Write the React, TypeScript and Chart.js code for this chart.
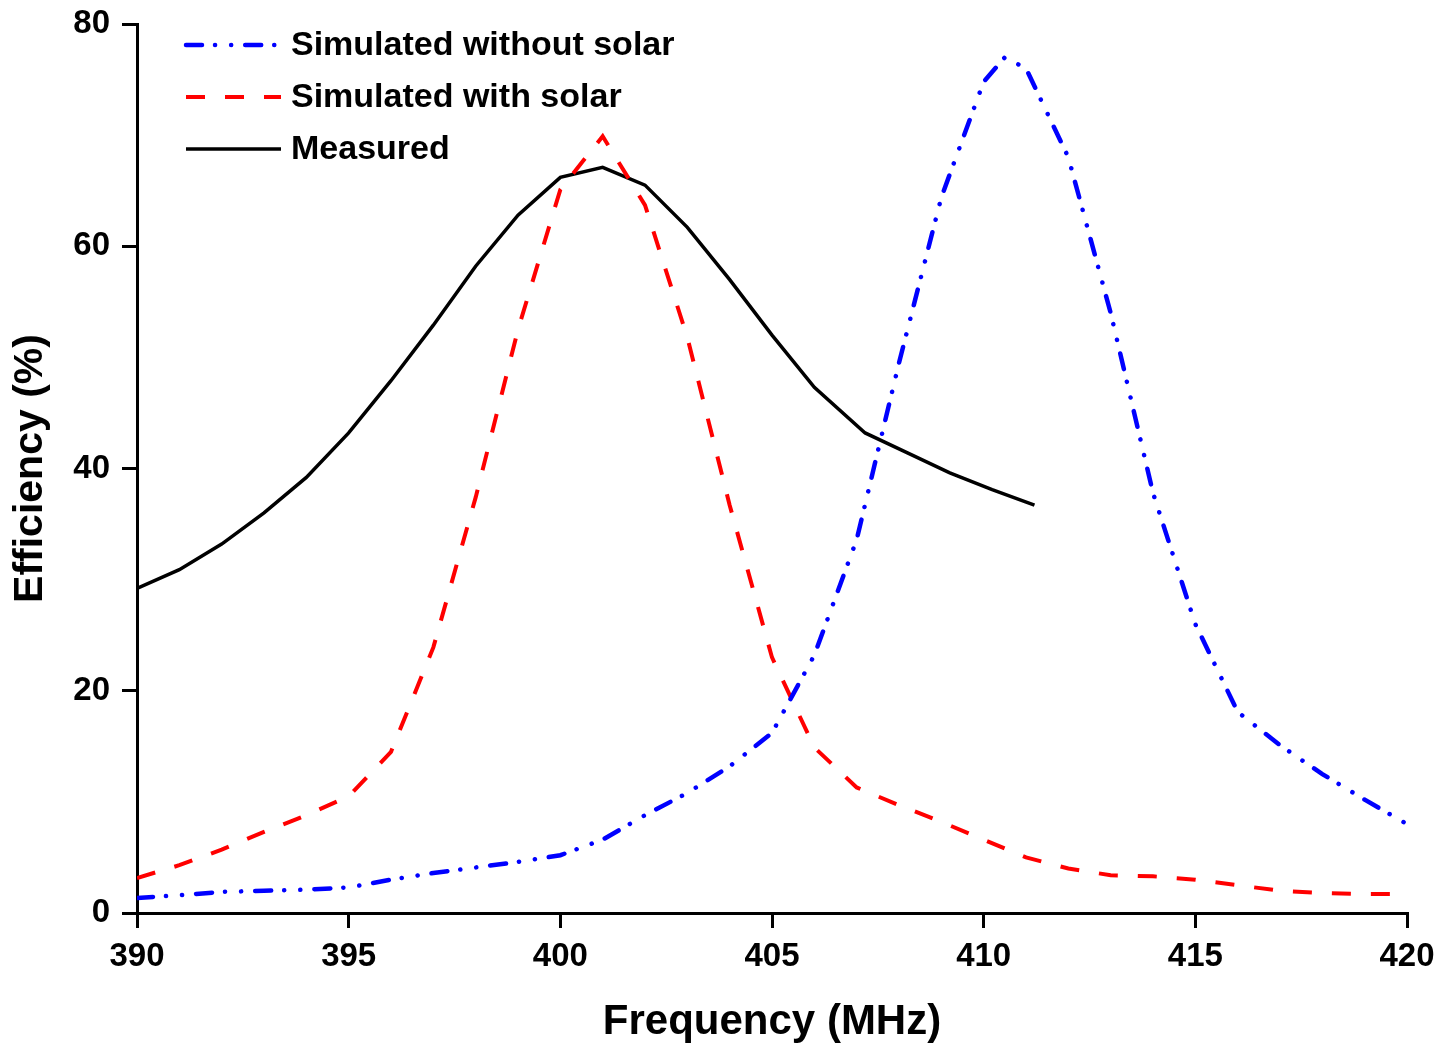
import React, { useEffect, useRef } from "react";
import { Chart, registerables } from "chart.js";

Chart.register(...registerables);

// Frequency grids (MHz)
const simFreq = [390, 391, 392, 393, 394, 395, 396, 397, 398, 399, 400, 401, 402, 403, 404, 405, 406, 407, 408, 409, 410, 410.5, 411, 412, 413, 414, 415, 416, 417, 418, 419, 420];
const withSolarFreq = [390, 391, 392, 393, 394, 395, 396, 397, 398, 399, 400, 401, 402, 403, 404, 405, 406, 407, 408, 409, 410, 411, 412, 413, 414, 415, 416, 417, 418, 419, 420];
const measFreq = [390, 391, 392, 393, 394, 395, 396, 397, 398, 399, 400, 401, 402, 403, 404, 405, 406, 407.2, 408.2, 409.2, 410.2, 411.2];

// Efficiency (%)
const withoutSolar = [1.35, 1.6, 1.9, 2.0, 2.1, 2.3, 3.0, 3.6, 4.1, 4.6, 5.2, 6.6, 8.8, 10.8, 13.2, 16.2, 23.2, 33.6, 49.5, 64.4, 74.8, 77.0, 76.0, 68.0, 54.0, 37.8, 26.0, 18.1, 15.1, 12.5, 10.2, 8.0];
const withSolar = [3.15, 4.3, 5.7, 7.3, 8.8, 10.5, 14.5, 23.9, 37.4, 52.5, 65.1, 69.9, 63.7, 51.8, 36.7, 23.0, 14.9, 11.3, 9.7, 8.2, 6.6, 5.0, 4.0, 3.4, 3.3, 3.0, 2.5, 2.0, 1.8, 1.7, 1.7];
const measured = [29.2, 30.9, 33.2, 36.0, 39.2, 43.2, 47.9, 52.9, 58.2, 62.8, 66.2, 67.1, 65.5, 61.7, 57.0, 52.0, 47.3, 43.2, 41.4, 39.6, 38.1, 36.7];

const seriesLabels = ["Simulated without solar", "Simulated with solar", "Measured"];
const xTicks = [390, 395, 400, 405, 410, 415, 420];
const yTicks = [0, 20, 40, 60, 80];

const FONT = '"Liberation Sans", Arial, Helvetica, sans-serif';

const toPts = (xs: number[], ys: number[]) => xs.map((x, i) => ({ x, y: ys[i] }));

const legendPlugin = {
  id: "customLegend",
  afterDraw(chart: any) {
    const { ctx, chartArea } = chart;
    ctx.save();
    chart.data.datasets.forEach((ds: any, i: number) => {
      const y = chartArea.top + 21 + i * 52;
      const x0 = chartArea.left + 49;
      ctx.beginPath();
      ctx.setLineDash(ds.borderDash || []);
      ctx.lineCap = ds.borderCapStyle || "butt";
      ctx.lineWidth = ds.borderWidth;
      ctx.strokeStyle = ds.borderColor;
      ctx.moveTo(x0, y);
      ctx.lineTo(x0 + 95, y);
      ctx.stroke();
      ctx.setLineDash([]);
      ctx.fillStyle = "#000";
      ctx.font = `bold 34px ${FONT}`;
      ctx.textBaseline = "middle";
      ctx.textAlign = "left";
      ctx.fillText(ds.label, x0 + 105, y + 1);
    });
    ctx.restore();
  },
};

export default function App() {
  const ref = useRef<HTMLCanvasElement | null>(null);

  useEffect(() => {
    if (!ref.current) return;
    const chart = new Chart(ref.current, {
      type: "line",
      data: {
        datasets: [
          {
            label: seriesLabels[0],
            data: toPts(simFreq, withoutSolar),
            borderColor: "#0000ff",
            borderWidth: 4.5,
            borderDash: [16, 13, 0.1, 16, 0.1, 14],
            borderCapStyle: "round",
            pointRadius: 0,
            fill: false,
            tension: 0,
          },
          {
            label: seriesLabels[1],
            data: toPts(withSolarFreq, withSolar),
            borderColor: "#ff0000",
            borderWidth: 4,
            borderDash: [19, 20],
            borderCapStyle: "butt",
            pointRadius: 0,
            fill: false,
            tension: 0,
          },
          {
            label: seriesLabels[2],
            data: toPts(measFreq, measured),
            borderColor: "#000000",
            borderWidth: 3.5,
            borderCapStyle: "butt",
            pointRadius: 0,
            fill: false,
            tension: 0,
          },
        ],
      } as any,
      options: {
        responsive: false,
        animation: false,
        maintainAspectRatio: false,
        layout: { padding: { top: 24, right: 45, bottom: 0, left: 0 } },
        plugins: { legend: { display: false }, tooltip: { enabled: false } },
        scales: {
          x: {
            type: "linear",
            min: 390,
            max: 420,
            afterBuildTicks: (scale: any) => {
              scale.ticks = xTicks.map((v) => ({ value: v }));
            },
            afterFit: (scale: any) => {
              scale.height = 131;
              scale.paddingLeft = 0;
              scale.paddingRight = 0;
            },
            border: { display: true, color: "#000", width: 3 },
            grid: { drawOnChartArea: false, drawTicks: true, tickLength: 15, tickWidth: 3, tickColor: "#000", lineWidth: 3, color: "#000" },
            ticks: { color: "#000", font: { family: FONT, size: 33, weight: "bold" }, padding: 9, maxRotation: 0 },
            title: { display: true, text: "Frequency (MHz)", color: "#000", font: { family: FONT, size: 42, weight: "bold", lineHeight: 1 }, padding: { top: 0, bottom: 1 } },
          },
          y: {
            type: "linear",
            min: 0,
            max: 80,
            afterBuildTicks: (scale: any) => {
              scale.ticks = yTicks.map((v) => ({ value: v }));
            },
            afterFit: (scale: any) => {
              scale.width = 137;
              scale.paddingTop = 0;
              scale.paddingBottom = 0;
            },
            border: { display: true, color: "#000", width: 3 },
            grid: { drawOnChartArea: false, drawTicks: true, tickLength: 15, tickWidth: 3, tickColor: "#000", lineWidth: 3, color: "#000" },
            ticks: { color: "#000", font: { family: FONT, size: 33, weight: "bold" }, padding: 12 },
            title: { display: true, text: "Efficiency (%)", color: "#000", font: { family: FONT, size: 41, weight: "bold", lineHeight: 1 }, padding: { top: 10, bottom: 0 } },
          },
        },
      } as any,
      plugins: [legendPlugin],
    });
    return () => chart.destroy();
  }, []);

  return (
    <div style={{ position: "absolute", left: 0, top: 0, width: 1452, height: 1044, background: "#fff" }}>
      <canvas ref={ref} width={1452} height={1044} style={{ display: "block", width: 1452, height: 1044 }} />
    </div>
  );
}
